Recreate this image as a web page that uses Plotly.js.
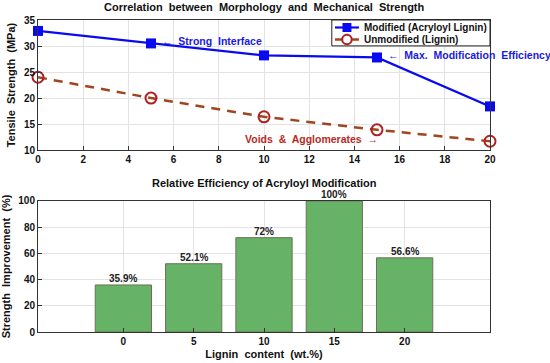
<!DOCTYPE html>
<html><head><meta charset="utf-8">
<script src="https://cdn.plot.ly/plotly-3.0.1.min.js"></script>
<style>html,body{margin:0;padding:0;background:#fff}#chart{width:550px;height:363px}</style>
</head><body><div id="chart"></div>
<script>
const lignin = [0, 5, 10, 15, 20];
const modified = [32.9, 30.5, 28.2, 27.8, 18.4];
const unmodified = [24.0, 20.0, 16.4, 13.9, 11.7];
const improvement = [35.9, 52.1, 72, 100, 56.6];
const improvementLabels = ['35.9%', '52.1%', '72%', '100%', '56.6%'];
const xTicksTop = [0, 2, 4, 6, 8, 10, 12, 14, 16, 18, 20];
const seriesNames = ['Modified (Acryloyl Lignin)', 'Unmodified (Lignin)'];

const F = 'Liberation Sans, Arial, sans-serif';
const bold = (t) => '<b>' + t + '</b>';
const BLUE = '#0a0af0', BROWN = '#a0461e', RED = '#b02020';

const traces = [
  {x: lignin, y: modified, type: 'scatter', mode: 'lines+markers', name: seriesNames[0],
   line: {color: BLUE, width: 2.2}, marker: {symbol: 'square', size: 10, color: BLUE},
   xaxis: 'x', yaxis: 'y', cliponaxis: false, showlegend: false},
  {x: lignin, y: unmodified, type: 'scatter', mode: 'lines+markers', name: seriesNames[1],
   line: {color: BROWN, width: 2.5, dash: '9px,7px'},
   marker: {symbol: 'circle-open', size: 11, color: RED, line: {width: 2, color: RED}},
   xaxis: 'x', yaxis: 'y', cliponaxis: false, showlegend: false},
  {x: lignin, y: improvement, type: 'bar', width: 4, showlegend: false,
   marker: {color: '#66b266', line: {color: '#6b7255', width: 1}},
   xaxis: 'x2', yaxis: 'y2'}
];

const axCommon = {showline: true, mirror: true, linecolor: '#333', linewidth: 1,
  ticks: 'inside', ticklen: 4, tickcolor: '#333', showgrid: true, gridcolor: '#e3e3e3',
  zeroline: false, tickfont: {family: F, size: 10, color: '#111', weight: 'bold'}};

// legend (drawn in paper coordinates of the top panel)
const LX0 = 0.650, LY0 = 0.917, LY1 = 1.0;
const row = [0.976, 0.9375];
const shapes = [
  {type: 'rect', xref: 'paper', yref: 'paper', x0: LX0, x1: 1, y0: LY0, y1: LY1,
   fillcolor: '#fff', line: {color: '#222', width: 1}, layer: 'above'},
  {type: 'line', xref: 'paper', yref: 'paper', x0: 0.657, x1: 0.710, y0: row[0], y1: row[0],
   line: {color: BLUE, width: 2.2}, layer: 'above'},
  {type: 'rect', xref: 'paper', yref: 'paper', x0: 0.6835 - 0.0099, x1: 0.6835 + 0.0099,
   y0: row[0] - 0.0144, y1: row[0] + 0.0144, fillcolor: BLUE, line: {width: 0}, layer: 'above'},
  {type: 'line', xref: 'paper', yref: 'paper', x0: 0.657, x1: 0.710, y0: row[1], y1: row[1],
   line: {color: BROWN, width: 2.5}, layer: 'above'},
  {type: 'circle', xref: 'paper', yref: 'paper', x0: 0.6835 - 0.0105, x1: 0.6835 + 0.0105,
   y0: row[1] - 0.0152, y1: row[1] + 0.0152, fillcolor: '#fff', line: {color: RED, width: 2}, layer: 'above'}
];

const annotations = [
  {xref: 'paper', yref: 'paper', x: 0.5, y: 1, yshift: 13, yanchor: 'middle', showarrow: false,
   text: bold('Correlation  between  Morphology  and  Mechanical  Strength'), font: {family: F, size: 11, color: '#111'}},
  {xref: 'paper', yref: 'paper', x: 0.5, y: 0.42, yshift: 18, yanchor: 'middle', showarrow: false,
   text: bold('Relative Efficiency of Acryloyl Modification'), font: {family: F, size: 11, color: '#111'}},
  {xref: 'x', yref: 'y', x: 5.4, y: 31, xanchor: 'left', showarrow: false,
   text: bold('←  Strong  Interface'), font: {family: F, size: 10.5, color: '#1a1adc'}},
  {xref: 'x', yref: 'y', x: 15.4, y: 28.3, xanchor: 'left', showarrow: false,
   text: bold('←  Max.  Modification  Efficiency'), font: {family: F, size: 10.5, color: '#1a1adc'}},
  {xref: 'x', yref: 'y', x: 20.3, y: 19.2, xanchor: 'left', showarrow: false,
   text: bold('Saturation'), font: {family: F, size: 10.5, color: '#111'}},
  {xref: 'x', yref: 'y', x: 12.08, y: 12.2, xanchor: 'center', showarrow: false,
   text: bold('Voids  &  Agglomerates  →'), font: {family: F, size: 10.5, color: '#b82a1e'}},
  {xref: 'paper', yref: 'paper', x: 0.717, y: row[0], xanchor: 'left', yanchor: 'middle', showarrow: false,
   text: bold(seriesNames[0]), font: {family: F, size: 10, color: '#111'}},
  {xref: 'paper', yref: 'paper', x: 0.717, y: row[1], xanchor: 'left', yanchor: 'middle', showarrow: false,
   text: bold(seriesNames[1]), font: {family: F, size: 10, color: '#111'}}
];
lignin.forEach((xv, i) => annotations.push({xref: 'x2', yref: 'y2', x: xv, y: improvement[i],
  yanchor: 'bottom', yshift: -1, showarrow: false, text: bold(improvementLabels[i]),
  font: {family: F, size: 10, color: '#222'}}));

const layout = {
  width: 550, height: 363,
  margin: {l: 38, r: 60, t: 20, b: 31},
  paper_bgcolor: '#fff', plot_bgcolor: '#fff',
  font: {family: F, color: '#111'},
  showlegend: false,
  xaxis: Object.assign({}, axCommon, {domain: [0, 1], range: [0, 20], tickvals: xTicksTop, anchor: 'y'}),
  yaxis: Object.assign({}, axCommon, {domain: [0.583, 1], range: [10, 35], dtick: 5, anchor: 'x',
    title: {text: bold('Tensile  Strength  (MPa)'), font: {family: F, size: 11, color: '#111'}, standoff: 6}}),
  xaxis2: Object.assign({}, axCommon, {domain: [0, 1], range: [-6.07, 26.07], tickvals: lignin, anchor: 'y2',
    title: {text: bold('Lignin  content  (wt.%)'), font: {family: F, size: 11, color: '#111'}, standoff: 4}}),
  yaxis2: Object.assign({}, axCommon, {domain: [0, 0.42], range: [0, 100], dtick: 20, anchor: 'x2',
    title: {text: bold('Strength  Improvement  (%)'), font: {family: F, size: 11, color: '#111'}, standoff: 6}}),
  shapes: shapes,
  annotations: annotations
};

Plotly.newPlot('chart', traces, layout, {displayModeBar: false, staticPlot: true});
</script></body></html>
